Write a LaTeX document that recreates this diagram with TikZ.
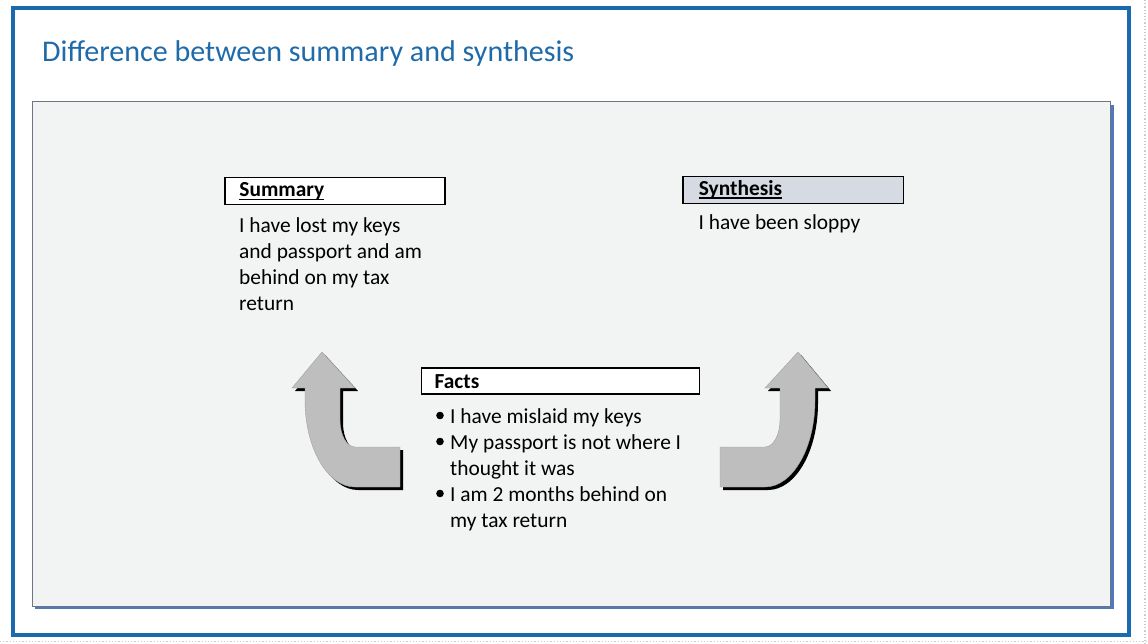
\documentclass[tikz,border=0pt]{standalone}
\usepackage{fontspec}
\setmainfont{Carlito}
\definecolor{frameblue}{HTML}{1A6BAD}
\definecolor{titleblue}{HTML}{1F6BAA}
\definecolor{panelfill}{HTML}{F2F3F3}
\definecolor{panelline}{HTML}{6E7583}
\definecolor{panelshadow}{HTML}{4F79BD}
\definecolor{synthfill}{HTML}{D6DBE3}
\definecolor{arrowgray}{HTML}{BEBEBE}
% heading underline that sits just under the baseline
\newcommand{\headul}[1]{\setbox0=\hbox{#1}\rlap{\vrule height -2.2pt depth 3.7pt width \wd0}\box0}
% left-hand bent block arrow (turning up); the right one is its mirror image
\newcommand{\bentarrowpath}{(322,352) -- (355,388) -- (340,388) -- (340,420)
  .. controls (340,435) and (346.7,447) .. (355,447) -- (400,447) -- (400,487)
  -- (355,487) .. controls (327.4,487) and (305,448) .. (305,400)
  -- (305,388) -- (292,388) -- cycle}
\begin{document}
\begin{tikzpicture}[x=1pt,y=-1pt,
  bodytext/.style={inner sep=0pt, anchor=base west, font={\fontsize{21.4}{26}\selectfont}},
  headbox/.style={draw=black, line width=1.2pt, anchor=north west, inner xsep=14.5pt, inner ysep=0pt,
    align=left, font={\fontsize{21.4}{26}\selectfont\bfseries}},
  bigarrow/.style={fill=arrowgray, draw=arrowgray!85!black, line width=0.4pt},
  arrowshadow/.style={fill=black}]
\useasboundingbox (0,0) rectangle (1148,644);
\fill[white] (0,0) rectangle (1148,644);
\draw[gray!40, dotted, line width=1.2pt] (1145,0) -- (1145,644);
\draw[gray!40, dotted, line width=1.2pt] (0,641.5) -- (1148,641.5);

% slide frame and content panel
\fill[panelshadow] (35,105) rectangle (1113.5,609);
\draw[panelline, fill=panelfill, line width=1pt] (32,102) rectangle (1110.5,606);
\draw[frameblue, line width=4pt] (13,8.5) rectangle (1128.5,635);

\node[inner sep=0pt, anchor=base west, text=titleblue, font={\fontsize{30.05}{34}\selectfont}]
  (title) at (42,62) {Difference between summary and synthesis};

% bent arrows
\fill[arrowshadow, shift={(3,3)}] \bentarrowpath;
\draw[bigarrow] \bentarrowpath;
\fill[arrowshadow, shift={(1123,3)}, xscale=-1] \bentarrowpath;
\draw[bigarrow, shift={(1120,0)}, xscale=-1] \bentarrowpath;

% Summary
\node[headbox, fill=white, text width=191pt, minimum height=26.4pt, text height=15pt, text depth=3.6pt]
  (sumhead) at (224.3,177.3) {\headul{Summary}};
\node[bodytext] (sumtext) at (239,232.3)
  {\begin{tabular}[t]{@{}l@{}}I have lost my keys\\and passport and am\\behind on my tax\\return\end{tabular}};

% Synthesis
\node[headbox, fill=synthfill, inner xsep=16pt, text width=188.4pt, minimum height=26.7pt, text height=15pt, text depth=4.5pt]
  (synhead) at (682.3,176) {\headul{Synthesis}};
\node[bodytext] (syntext) at (698.5,230) {I have been sloppy};

% Facts
\node[headbox, fill=white, inner xsep=13pt, text width=251.7pt, minimum height=26pt, text height=17pt, text depth=1.5pt]
  (facthead) at (421,367.3) {Facts};
\node[bodytext] (facttext) at (450,423.5)
  {\begin{tabular}[t]{@{}l@{}}I have mislaid my keys\\My passport is not where I\\thought it was\\I am 2 months behind on\\my tax return\end{tabular}};
\fill (440,415.5) circle (3.8);
\fill (440,441.5) circle (3.8);
\fill (440,493.5) circle (3.8);
\end{tikzpicture}
\end{document}
